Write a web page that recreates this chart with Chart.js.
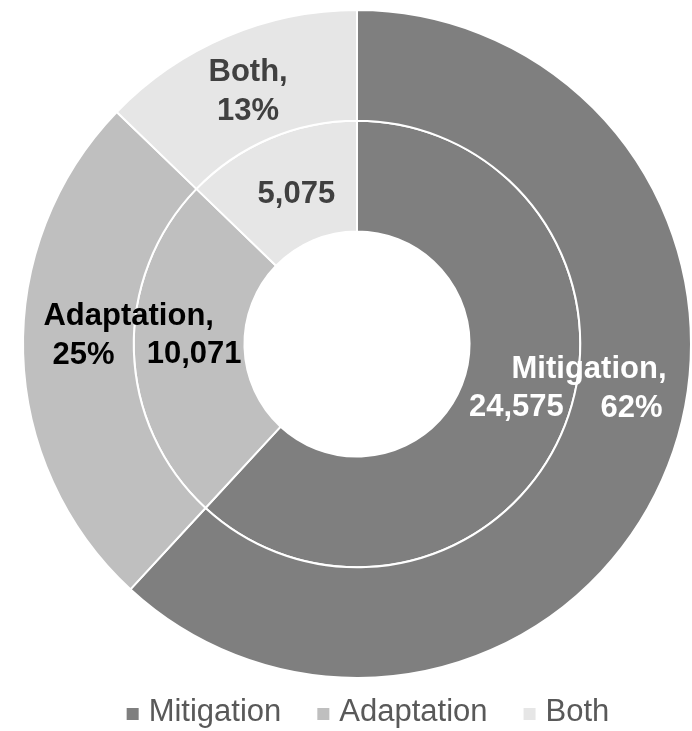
<!DOCTYPE html>
<html lang="en">
<head>
<meta charset="utf-8">
<script src="https://cdn.jsdelivr.net/npm/chart.js@4.4.1/dist/chart.umd.min.js"></script>
<style>
  html, body { margin: 0; padding: 0; background: #fff; }
  #wrap { width: 692px; height: 731px; }
</style>
</head>
<body>
<div id="wrap"><canvas id="chart" width="692" height="731"></canvas></div>
<script>
// data
var categories = ['Mitigation', 'Adaptation', 'Both'];
var projects = [24575, 10071, 5075];      // inner ring labels + both rings' sizes
var shares = ['62%', '25%', '13%'];        // outer ring labels
var colours = ['#7f7f7f', '#bfbfbf', '#e6e6e6'];
var labelColours = ['#ffffff', '#000000', '#404040'];

var FONT = '"Liberation Sans", Arial, sans-serif';

function fmt(n) {
  return n.toLocaleString('en-US');
}

// text drawn on the rings, placed relative to each arc's centroid
var ringLabels = {
  id: 'ringLabels',
  afterDatasetsDraw: function (chart, args, opts) {
    var ctx = chart.ctx;
    ctx.save();
    ctx.font = 'bold 31px ' + FONT;
    ctx.textBaseline = 'alphabetic';
    chart.data.datasets.forEach(function (ds, di) {
      var meta = chart.getDatasetMeta(di);
      meta.data.forEach(function (arc, i) {
        var p = arc.tooltipPosition();
        var place = opts.places[di][i];
        var lines = di === 0 ? [categories[i] + ',', shares[i]] : [fmt(projects[i])];
        ctx.fillStyle = labelColours[i];
        lines.forEach(function (t, k) {
          ctx.textAlign = (place.align && place.align[k]) || 'center';
          var x = p.x + place.dx + ((place.shift && place.shift[k]) || 0);
          ctx.fillText(t, x, p.y + place.dy + k * opts.lineGap);
        });
      });
    });
    ctx.restore();
  }
};

// legend along the bottom, Excel style
var bottomLegend = {
  id: 'bottomLegend',
  afterDraw: function (chart, args, opts) {
    var ctx = chart.ctx;
    var area = chart.chartArea;
    ctx.save();
    ctx.font = opts.size + 'px ' + FONT;
    ctx.textBaseline = 'middle';
    ctx.textAlign = 'left';
    var widths = categories.map(function (c) { return ctx.measureText(c).width; });
    var total = 0;
    widths.forEach(function (w) { total += opts.box + opts.gap + w; });
    total += opts.itemGap * (categories.length - 1);
    var x = (area.left + area.right) / 2 + opts.shiftX - total / 2;
    categories.forEach(function (c, i) {
      ctx.fillStyle = colours[i];
      ctx.fillRect(x, opts.y - opts.box / 2 + 2, opts.box, opts.box);
      x += opts.box + opts.gap;
      ctx.fillStyle = opts.color;
      ctx.fillText(c, x, opts.y);
      x += widths[i] + opts.itemGap;
    });
    ctx.restore();
  }
};

var chart = new Chart(document.getElementById('chart').getContext('2d'), {
  type: 'doughnut',
  data: {
    labels: categories,
    datasets: [
      { label: 'Share', data: projects, backgroundColor: colours, borderColor: '#ffffff', borderWidth: 2 },
      { label: 'Projects', data: projects, backgroundColor: colours, borderColor: '#ffffff', borderWidth: 2 }
    ]
  },
  options: {
    responsive: false,
    animation: false,
    cutout: '33.7%',
    layout: { padding: { left: 22, right: 0, top: 9, bottom: 52 } },
    plugins: {
      legend: { display: false },
      tooltip: { enabled: false },
      ringLabels: {
        lineGap: 39,
        places: [
          [
            { dx: 50, dy: -68, align: ['right', 'right'], shift: [0, -4] },
            { dx: -35, dy: -27, align: ['left', 'left'], shift: [0, 9] },
            { dx: 0, dy: -7 }
          ],
          [
            { dx: 3, dy: 11 },
            { dx: 5, dy: 14 },
            { dx: 5, dy: 14 }
          ]
        ]
      },
      bottomLegend: { size: 31, box: 12, gap: 10, itemGap: 36, y: 712, shiftX: 11, color: '#595959' }
    }
  },
  plugins: [ringLabels, bottomLegend]
});
</script>
</body>
</html>
